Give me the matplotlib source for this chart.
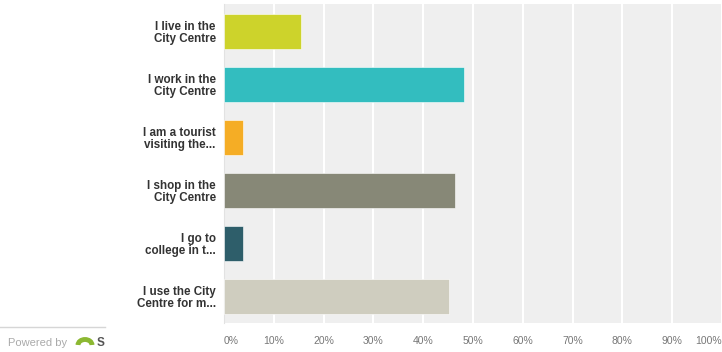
import numpy as np
import matplotlib.pyplot as plt
from matplotlib.patches import Arc

# survey answers and share of respondents (percent)
labels = ["I live in the\nCity Centre", "I work in the\nCity Centre", "I am a tourist\nvisiting the...",
          "I shop in the\nCity Centre", "I go to\ncollege in t...", "I use the City\nCentre for m..."]
values = [15.4, 48.2, 3.8, 46.3, 3.8, 45.2]
colors = ["#cdd32b", "#33bdbf", "#f5ad25", "#878877", "#2e5e6a", "#cfcdbf"]
ticks = [0, 10, 20, 30, 40, 50, 60, 70, 80, 90, 100]
tick_labels = [str(t) + "%" for t in ticks]

plt.rcParams['font.family'] = ['Liberation Sans', 'DejaVu Sans']

fig = plt.figure(figsize=(7.22, 3.52), dpi=100)
ax = fig.add_axes([224/722, 1-323/352, 498/722, 319/352])
ax.set_facecolor("#efefef")

y = np.arange(len(values))
ax.barh(y, values, height=0.66, color=colors, edgecolor="#ffffff", linewidth=0.4, zorder=3)

ax.set_xlim(0, 100)
ax.set_ylim(5.5, -0.52)
ax.set_xticks(ticks)
ax.grid(axis='x', color='white', linewidth=1.5, zorder=1)
ax.tick_params(length=0)
ax.set_xticklabels([])
for s in ax.spines.values():
    s.set_visible(False)
ax.spines['left'].set_visible(True)
ax.spines['left'].set_color("#e2e2e2")

ax.set_yticks(y)
ax.set_yticklabels(labels, fontsize=8.4, fontweight='bold', color='#333333', linespacing=1.0)
ax.tick_params(axis='y', pad=6)

# percent labels under the axis, first and last pulled inside
for t, lab in zip(ticks, tick_labels):
    ha = 'center'
    if t == 0:
        ha = 'left'
    elif t == 100:
        ha = 'right'
    ax.annotate(lab, xy=(t, 0), xycoords=('data', 'axes fraction'), xytext=(0, -13),
                textcoords='offset points', ha=ha, va='center', fontsize=7.5, color='#777777')

# "Powered by" footer
fig.add_artist(plt.Line2D([0, 105/722], [1-327/352, 1-327/352], color='#d6d6d6', linewidth=1))
fig.text(8/722, 1-343/352, "Powered by", fontsize=8, color='#aaaaaa', va='center')
fig.add_artist(Arc((85/722, 1-345/352), 14/722, 11/352, theta1=0, theta2=180,
                   color='#8cb832', linewidth=3.5))
fig.text(97/722, 1-343/352, "S", fontsize=8.5, fontweight='bold', color='#555555', va='center')

fig.savefig('out.png', dpi=100)
